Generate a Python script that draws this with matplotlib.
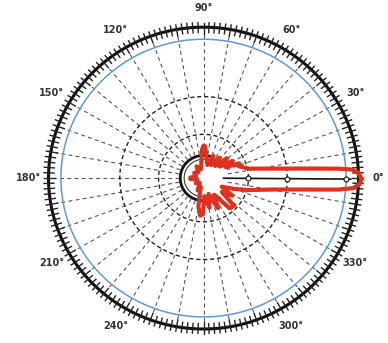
import numpy as np
import matplotlib
matplotlib.use("Agg")
import matplotlib.pyplot as plt

# Radiation pattern (angle in degrees, normalised radius)
pattern_deg = [1.9, 3.4, 4.1, 5.6, 7.9, 12.2, 19.3,
               23, 27, 31, 36, 41, 47, 53, 60, 67, 74, 82, 87, 90, 93, 98,
               108, 120, 132, 150, 165, 178, 184, 195, 215, 232, 245, 253,
               260, 265, 269, 273, 281, 287, 295, 302, 310, 317, 322, 328,
               334, 340,
               344.7, 350.5, 353.3, 355.0, 356.1, 357.7, 359.6, 361.9]
pattern_r = [1.00, 0.957, 0.873, 0.648, 0.456, 0.297, 0.239,
             0.25, 0.16, 0.22, 0.13, 0.20, 0.11, 0.17, 0.10, 0.16, 0.09, 0.14, 0.21, 0.215, 0.19, 0.10,
             0.06, 0.09, 0.05, 0.07, 0.05, 0.085, 0.085, 0.04, 0.06, 0.04, 0.09, 0.06,
             0.19, 0.25, 0.24, 0.12, 0.20, 0.11, 0.22, 0.13, 0.26, 0.27, 0.15, 0.22,
             0.13, 0.21,
             0.301, 0.458, 0.65, 0.874, 0.97, 1.007, 1.02, 1.00]

# Grid rings
dashed_rings = [0.29, 0.54]
blue_ring = 0.92
inner_arc = 0.15
spoke_step = 10

# Angle labels
label_deg = [0, 30, 60, 90, 120, 150, 180, 210, 240, 300, 330]
label_txt = [f"{a}°" for a in label_deg]

fig = plt.figure(figsize=(3.88, 3.43), dpi=100)
fig.patch.set_facecolor("white")
ax = fig.add_axes([0.125, 0.0408, 0.799, 0.880], projection="polar")
ax.set_aspect("auto")
ax.set_ylim(0, 1.0)
ax.grid(False)
ax.set_xticks([])
ax.set_yticks([])
ax.spines["polar"].set_visible(False)

full = np.linspace(0, 2 * np.pi, 721)

# dashed spokes every 10 degrees
for a in range(0, 360, spoke_step):
    if a == 0:
        continue
    t = np.deg2rad(a)
    ax.plot([t, t], [0.16, 0.965], color="#555555", lw=0.8,
            ls=(0, (3.5, 3)), zorder=1)

# dashed rings
for r in dashed_rings:
    ax.plot(full, np.full_like(full, r), color="#222222", lw=1.0,
            ls=(0, (3, 2)), zorder=2)

# inner solid arc
arc = np.deg2rad(np.linspace(65, 295, 200))
ax.plot(arc, np.full_like(arc, inner_arc), color="#111111", lw=2.0, zorder=2)
ax.plot(arc, np.full_like(arc, inner_arc - 0.025), color="#333333", lw=0.8, zorder=2)

# blue ring
ax.plot(full, np.full_like(full, blue_ring), color="#5b9bd5", lw=1.1, zorder=2)

# outer graduated ring
ax.plot(full, np.full_like(full, 1.0), color="#111111", lw=2.2, zorder=3, clip_on=False)
for a in range(0, 360, 2):
    t = np.deg2rad(a)
    r0 = 0.955 if a % 10 == 0 else 0.965
    ax.plot([t, t], [r0, 1.03], color="#222222", lw=1.0, zorder=3, clip_on=False)

# boresight line with ring markers
t0 = np.deg2rad(-0.4)
ax.plot([t0, t0], [0.13, 0.95], color="#111111", lw=1.2, zorder=5)
ax.plot([t0] * 3, dashed_rings + [blue_ring], ls="none", marker="o", ms=3.5,
        mfc="white", mec="#222222", mew=0.9, zorder=6)

# radiation pattern
th = np.deg2rad(pattern_deg)
ax.plot(th, pattern_r, color="#e0301e", lw=3.0, solid_joinstyle="round",
        zorder=4, clip_on=False)

# angle labels
for a, s in zip(label_deg, label_txt):
    ax.text(np.deg2rad(a), 1.13, s, ha="center", va="center", fontsize=7,
            fontweight="bold", color="#333333", clip_on=False)

fig.savefig("out.png", dpi=100, facecolor="white")
